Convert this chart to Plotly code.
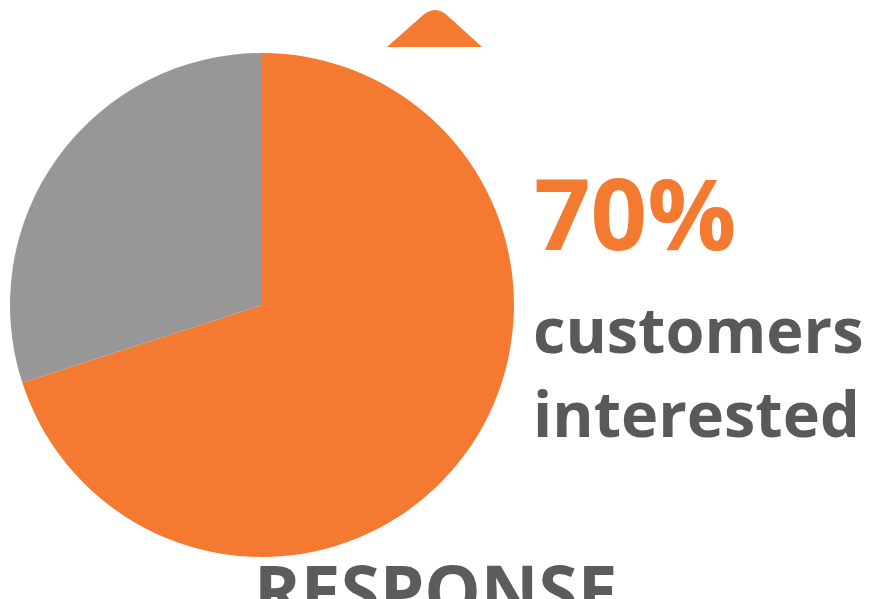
import plotly.graph_objects as go

labels = ["Interested", "Not interested"]
values = [70, 30]
colors = ["#F47A32", "#979797"]
headline = "70%"
sub_lines = ["customers", "interested"]
footer = "RESPONSE"

W, H = 870, 599

def px(x):
    return x / W

def py(y):
    return 1 - y / H

fig = go.Figure()
fig.add_trace(go.Pie(
    labels=labels, values=values, sort=False, direction="clockwise", rotation=0,
    marker=dict(colors=colors, line=dict(width=0)),
    textinfo="none", hoverinfo="label+percent", showlegend=False,
    domain=dict(x=[px(10), px(514)], y=[py(557), py(53)]),
))

# decorative triangle at top
tri = "M {:.4f},{:.4f} L {:.4f},{:.4f} Q {:.4f},{:.4f} {:.4f},{:.4f} L {:.4f},{:.4f} Z".format(
    px(387), py(47), px(421), py(17), px(435), py(3), px(449), py(17), px(482), py(47))
fig.add_shape(type="path", path=tri, xref="paper", yref="paper",
              fillcolor="#F47A32", line=dict(width=0), layer="below")

font_family = "Open Sans"
fig.add_annotation(text="<b>%s</b>" % headline, x=px(532), y=py(212), xref="paper", yref="paper",
                   xanchor="left", yanchor="middle", showarrow=False,
                   font=dict(family=font_family, size=99, color="#F47A32"))
fig.add_annotation(text="<b>%s</b>" % sub_lines[0], x=px(531), y=py(328), xref="paper", yref="paper",
                   xanchor="left", yanchor="middle", showarrow=False,
                   font=dict(family=font_family, size=63, color="#58595B"))
fig.add_annotation(text="<b>%s</b>" % sub_lines[1], x=px(531), y=py(412), xref="paper", yref="paper",
                   xanchor="left", yanchor="middle", showarrow=False,
                   font=dict(family=font_family, size=63, color="#58595B"))
fig.add_annotation(text="<b>%s</b>" % footer, x=px(436), y=py(589), xref="paper", yref="paper",
                   xanchor="center", yanchor="middle", showarrow=False,
                   font=dict(family=font_family, size=71, color="#5B5C5E"))

fig.update_layout(width=W, height=H, margin=dict(l=0, r=0, t=0, b=0),
                  paper_bgcolor="white", plot_bgcolor="white")
fig.write_html("out.html")
